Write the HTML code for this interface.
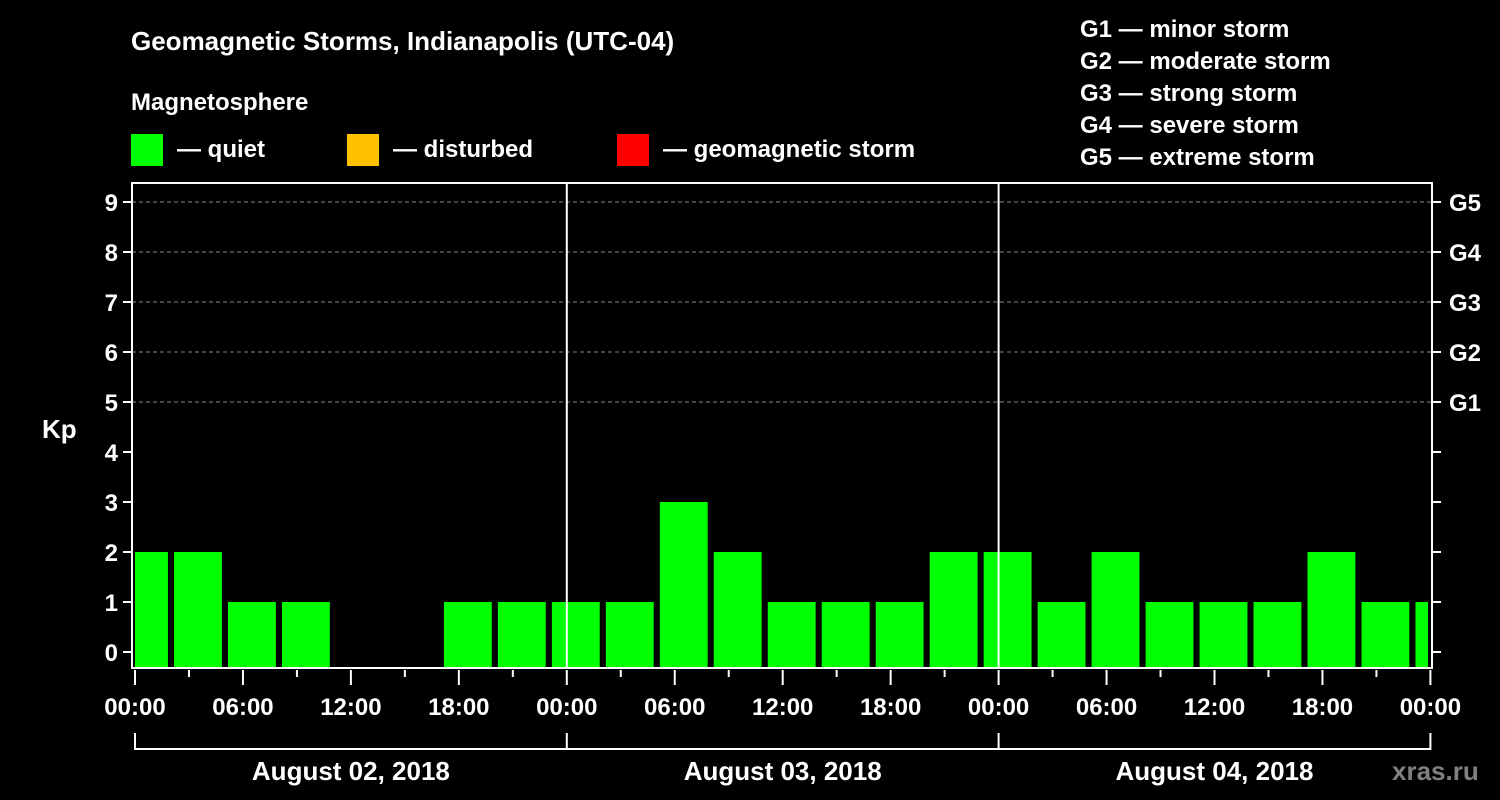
<!DOCTYPE html>
<html><head><meta charset="utf-8"><style>
body{margin:0;background:#000;width:1500px;height:800px;overflow:hidden}
svg{display:block}
text{font-family:"Liberation Sans",sans-serif;font-weight:bold;fill:#fff}
</style></head><body>
<svg id="c" width="1500" height="800" viewBox="0 0 1500 800">
<text x="131" y="50" font-size="26">Geomagnetic Storms, Indianapolis (UTC-04)</text>
<text x="131" y="110" font-size="24">Magnetosphere</text>
<rect x="131" y="134" width="32" height="32" fill="#00ff00"/>
<text x="177" y="157" font-size="24">— quiet</text>
<rect x="347" y="134" width="32" height="32" fill="#ffc000"/>
<text x="393" y="157" font-size="24">— disturbed</text>
<rect x="617" y="134" width="32" height="32" fill="#ff0000"/>
<text x="663" y="157" font-size="24">— geomagnetic storm</text>
<g font-size="24">
<text x="1080" y="37">G1 — minor storm</text>
<text x="1080" y="69">G2 — moderate storm</text>
<text x="1080" y="101">G3 — strong storm</text>
<text x="1080" y="133">G4 — severe storm</text>
<text x="1080" y="165">G5 — extreme storm</text>
</g>
<text x="42" y="438" font-size="26">Kp</text>
<text x="1392" y="780" font-size="26" style="fill:#808080">xras.ru</text>
<g id="plot"></g>
</svg>
<script>
const kpValues=[2,2,1,1,0,0,1,1,1,1,3,2,1,1,1,2,2,1,2,1,1,1,2,1,1];
const yTicks=[0,1,2,3,4,5,6,7,8,9];
const gLabels=["G1","G2","G3","G4","G5"];
const xTickLabels=["00:00","06:00","12:00","18:00","00:00","06:00","12:00","18:00","00:00","06:00","12:00","18:00","00:00"];
const dayLabels=["August 02, 2018","August 03, 2018","August 04, 2018"];
const NS="http://www.w3.org/2000/svg";
const g=document.getElementById('plot');
const L=132,R=1432,T=183,B=668,X0=135,HW=431.8/24;
const x=h=>X0+h*HW;
const y=v=>652-v*50;
function mk(tag,a){const e=document.createElementNS(NS,tag);for(const k in a)e.setAttribute(k,a[k]);g.appendChild(e);return e;}
// grid
[5,6,7,8,9].forEach(v=>{const e=mk('line',{x1:L,x2:R,y1:y(v),y2:y(v),stroke:'#888','stroke-dasharray':'4,3','stroke-width':1});

});
// bars
kpValues.forEach((v,k)=>{if(v<=0)return;const t=k*3;let x1=Math.max(x(t-0.83),L+3),x2=Math.min(x(t+1.83),R-4);
const r=mk('rect',{x:x1,y:y(v),width:x2-x1,height:B-y(v),fill:'#00ff00'});

});
// day separators
[1,2].forEach(d=>{const e=mk('line',{x1:x(d*24),x2:x(d*24),y1:T,y2:B,stroke:'#fff','stroke-width':2});

});
// frame
const f=mk('rect',{x:L,y:T,width:R-L,height:B-T,fill:'none',stroke:'#fff','stroke-width':2});


// y ticks
yTicks.forEach(v=>{mk('line',{x1:L-9,x2:L,y1:y(v),y2:y(v),stroke:'#fff','stroke-width':2});
mk('line',{x1:R,x2:R+9,y1:y(v),y2:y(v),stroke:'#fff','stroke-width':2});
const t=mk('text',{x:L-14,y:y(v)+9,'font-size':24,'text-anchor':'end'});t.textContent=v;

});
gLabels.forEach((s,i)=>{const t=mk('text',{x:1449,y:y(5+i)+9,'font-size':24});t.textContent=s;

});
// x ticks
for(let h=0;h<=72;h+=3){const major=h%6===0;mk('line',{x1:x(h),x2:x(h),y1:B+2,y2:B+(major?17:9),stroke:'#fff','stroke-width':2});}
xTickLabels.forEach((s,i)=>{const t=mk('text',{x:x(i*6),y:715,'font-size':24,'text-anchor':'middle'});t.textContent=s;

});
// day brackets
mk('line',{x1:x(0),x2:x(72),y1:749,y2:749,stroke:'#fff','stroke-width':2});
[0,1,2,3].forEach(d=>mk('line',{x1:x(d*24),x2:x(d*24),y1:733,y2:750,stroke:'#fff','stroke-width':2}));
dayLabels.forEach((s,i)=>{const t=mk('text',{x:x(i*24+12),y:780,'font-size':26,'text-anchor':'middle'});t.textContent=s;

});
</script>
</body></html>
